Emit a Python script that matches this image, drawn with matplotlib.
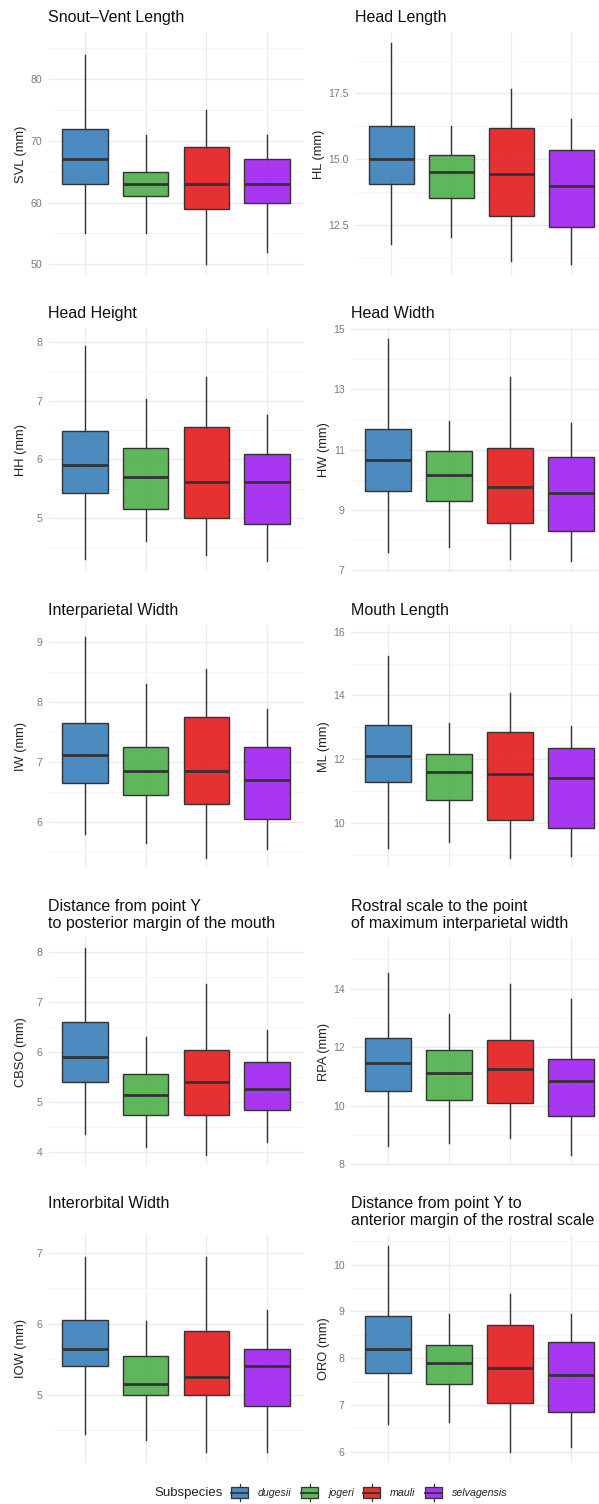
import matplotlib
matplotlib.use('Agg')
import matplotlib.pyplot as plt
from matplotlib.patches import Rectangle, Patch
from matplotlib.lines import Line2D
from matplotlib.legend_handler import HandlerBase
from matplotlib.ticker import MultipleLocator, AutoMinorLocator, FormatStrFormatter
from matplotlib.colors import to_rgba

plt.rcParams['font.family'] = ['Liberation Sans', 'DejaVu Sans']

subspecies = ['dugesii', 'jogeri', 'mauli', 'selvagensis']
colors = ['#377EB8', '#4DAF4A', '#E41A1C', '#A020F0']

# five-number summaries per subspecies: [lower whisker, Q1, median, Q3, upper whisker]
svl = [[55, 63, 67, 72, 84], [55, 61, 63, 65, 71], [50, 59, 63, 69, 75], [52, 60, 63, 67, 71]]
hl = [[11.75, 14.06, 15.0, 16.25, 19.43], [12.04, 13.53, 14.5, 15.15, 16.25],
      [11.12, 12.84, 14.42, 16.2, 17.65], [11.0, 12.42, 13.99, 15.34, 16.51]]
hh = [[4.30, 5.43, 5.90, 6.48, 7.94], [4.61, 5.16, 5.70, 6.20, 7.04],
      [4.36, 5.00, 5.61, 6.55, 7.40], [4.26, 4.90, 5.61, 6.10, 6.75]]
hw = [[7.62, 9.64, 10.67, 11.67, 14.66], [7.78, 9.30, 10.16, 10.96, 11.95],
      [7.39, 8.56, 9.76, 11.06, 13.42], [7.31, 8.32, 9.56, 10.76, 11.90]]
iw = [[5.79, 6.65, 7.11, 7.65, 9.09], [5.65, 6.45, 6.85, 7.25, 8.30],
      [5.40, 6.30, 6.85, 7.75, 8.55], [5.55, 6.04, 6.70, 7.25, 7.89]]
ml = [[9.21, 11.27, 12.10, 13.07, 15.24], [9.40, 10.70, 11.60, 12.15, 13.14],
      [8.90, 10.10, 11.52, 12.84, 14.09], [8.95, 9.85, 11.40, 12.36, 13.05]]
cbso = [[4.36, 5.40, 5.90, 6.60, 8.07], [4.10, 4.75, 5.15, 5.56, 6.31],
        [3.95, 4.75, 5.40, 6.05, 7.35], [4.20, 4.85, 5.26, 5.80, 6.45]]
rpa = [[8.63, 10.51, 11.46, 12.31, 14.55], [8.72, 10.20, 11.12, 11.90, 13.12],
       [8.91, 10.10, 11.26, 12.25, 14.15], [8.31, 9.65, 10.86, 11.60, 13.65]]
iow = [[4.45, 5.40, 5.65, 6.05, 6.94], [4.36, 5.00, 5.15, 5.55, 6.04],
       [4.20, 5.00, 5.25, 5.90, 6.94], [4.20, 4.85, 5.40, 5.65, 6.20]]
oro = [[6.60, 7.69, 8.20, 8.90, 10.40], [6.64, 7.45, 7.89, 8.29, 8.94],
       [6.00, 7.05, 7.80, 8.70, 9.38], [6.11, 6.86, 7.65, 8.34, 8.94]]

titles = ['Snout\u2013Vent Length', 'Head Length', 'Head Height', 'Head Width',
          'Interparietal Width', 'Mouth Length',
          'Distance from point Y\nto posterior margin of the mouth',
          'Rostral scale to the point\nof maximum interparietal width',
          'Interorbital Width',
          'Distance from point Y to\nanterior margin of the rostral scale']
ylabels = ['SVL (mm)', 'HL (mm)', 'HH (mm)', 'HW (mm)', 'IW (mm)', 'ML (mm)',
           'CBSO (mm)', 'RPA (mm)', 'IOW (mm)', 'ORO (mm)']
ylims = [(48.1, 87.7), (10.55, 19.85), (4.08, 8.24), (6.96, 15.02), (5.22, 9.29),
         (8.57, 16.21), (3.75, 8.27), (7.98, 15.72), (4.06, 7.25), (5.79, 10.63)]
ysteps = [10, 2.5, 1, 2, 1, 2, 1, 2, 1, 1]
yoffsets = [0, 0, 0, 1, 0, 0, 0, 0, 0, 0]
yfmts = ['%g', '%.1f', '%g', '%g', '%g', '%g', '%g', '%g', '%g', '%g']
datasets = [svl, hl, hh, hw, iw, ml, cbso, rpa, iow, oro]

W, H = 599, 1504
fig = plt.figure(figsize=(W / 100, H / 100), dpi=100)
fig.patch.set_facecolor('white')

rows_px = [(31.7, 276.0), (328.3, 571.7), (625.0, 868.3), (938.3, 1165.0), (1235.0, 1461.7)]
col_px = [(48.5, 303.5), (351.0, 607.5)]

edge = '#333333'
for i, data in enumerate(datasets):
    r, c = divmod(i, 2)
    top, bot = rows_px[r]
    x0, x1 = col_px[c]
    if i == 1:
        x0 = 355.0
    ax = fig.add_axes([x0 / W, 1 - bot / H, (x1 - x0) / W, (bot - top) / H])
    stats = [dict(whislo=s[0], q1=s[1], med=s[2], q3=s[3], whishi=s[4], fliers=[]) for s in data]
    bp = ax.bxp(stats, positions=[1, 2, 3, 4], widths=0.75, patch_artist=True,
                showcaps=False, showfliers=False,
                boxprops=dict(edgecolor=edge, linewidth=1.0),
                whiskerprops=dict(color=edge, linewidth=1.0),
                medianprops=dict(color=edge, linewidth=2.0, solid_capstyle='butt'))
    for patch, col in zip(bp['boxes'], colors):
        patch.set_facecolor(to_rgba(col, 0.9))
    ax.set_xlim(0.4, 4.6)
    ax.set_ylim(*ylims[i])
    ax.set_xticks([1, 2, 3, 4])
    ax.set_xticklabels([])
    ax.yaxis.set_major_locator(MultipleLocator(ysteps[i], offset=yoffsets[i]))
    ax.yaxis.set_minor_locator(AutoMinorLocator(2))
    ax.yaxis.set_major_formatter(FormatStrFormatter(yfmts[i]))
    ax.tick_params(axis='both', which='both', length=0)
    ax.tick_params(axis='y', pad=4.5, labelsize=7.6, labelcolor='#7a7a7a')
    ax.set_axisbelow(True)
    ax.grid(which='major', axis='both', color='#EBEBEB', linewidth=0.9)
    ax.grid(which='minor', axis='y', color='#F3F3F3', linewidth=0.5)
    for sp in ax.spines.values():
        sp.set_visible(False)
    ax.set_ylabel(ylabels[i], fontsize=9.3, color='#222222', va='center')
    lx = 20.7 if c == 0 else 324.0
    if i == 1:
        lx = 319.3
    ax.yaxis.set_label_coords((lx - x0) / (x1 - x0), 0.5)
    pad = 7.2
    if i == 8:
        pad = 7.2 + 17.0 * 0.72
    ax.set_title(titles[i], loc='left', fontsize=11.5, color='#111111', pad=pad, linespacing=1.17)


class BoxKey(HandlerBase):
    def create_artists(self, legend, orig_handle, xdescent, ydescent, width, height, fontsize, trans):
        fc = orig_handle.get_facecolor()
        bx = -xdescent
        by = -ydescent - 0.1 * height
        h = 1.2 * height
        cx = bx + width / 2
        rect = Rectangle((bx, by), width, h, facecolor=fc, edgecolor=edge, linewidth=0.9, transform=trans)
        med = Line2D([bx, bx + width], [by + h / 2] * 2, color=edge, linewidth=1.3, transform=trans)
        wl = Line2D([cx, cx], [by - 0.25 * h, by], color=edge, linewidth=0.9, transform=trans)
        wh = Line2D([cx, cx], [by + h, by + 1.25 * h], color=edge, linewidth=0.9, transform=trans)
        return [wl, wh, rect, med]


handles = [Patch(facecolor=to_rgba(col, 0.9)) for col in colors]
ly = 1 - 1493 / H
fig.text(154 / W, ly, 'Subspecies', fontsize=9.5, color='#222222', va='center', ha='left')
fig.legend(handles, subspecies, loc='center left', bbox_to_anchor=(231 / W, ly), ncol=4,
           frameon=False, prop=dict(style='italic', size=7.7), handlelength=1.6,
           handleheight=1.0, handletextpad=0.9, columnspacing=0.9, borderaxespad=0,
           borderpad=0, labelcolor='#222222', handler_map={Patch: BoxKey()})

fig.savefig('out.png', dpi=100, facecolor='white')
